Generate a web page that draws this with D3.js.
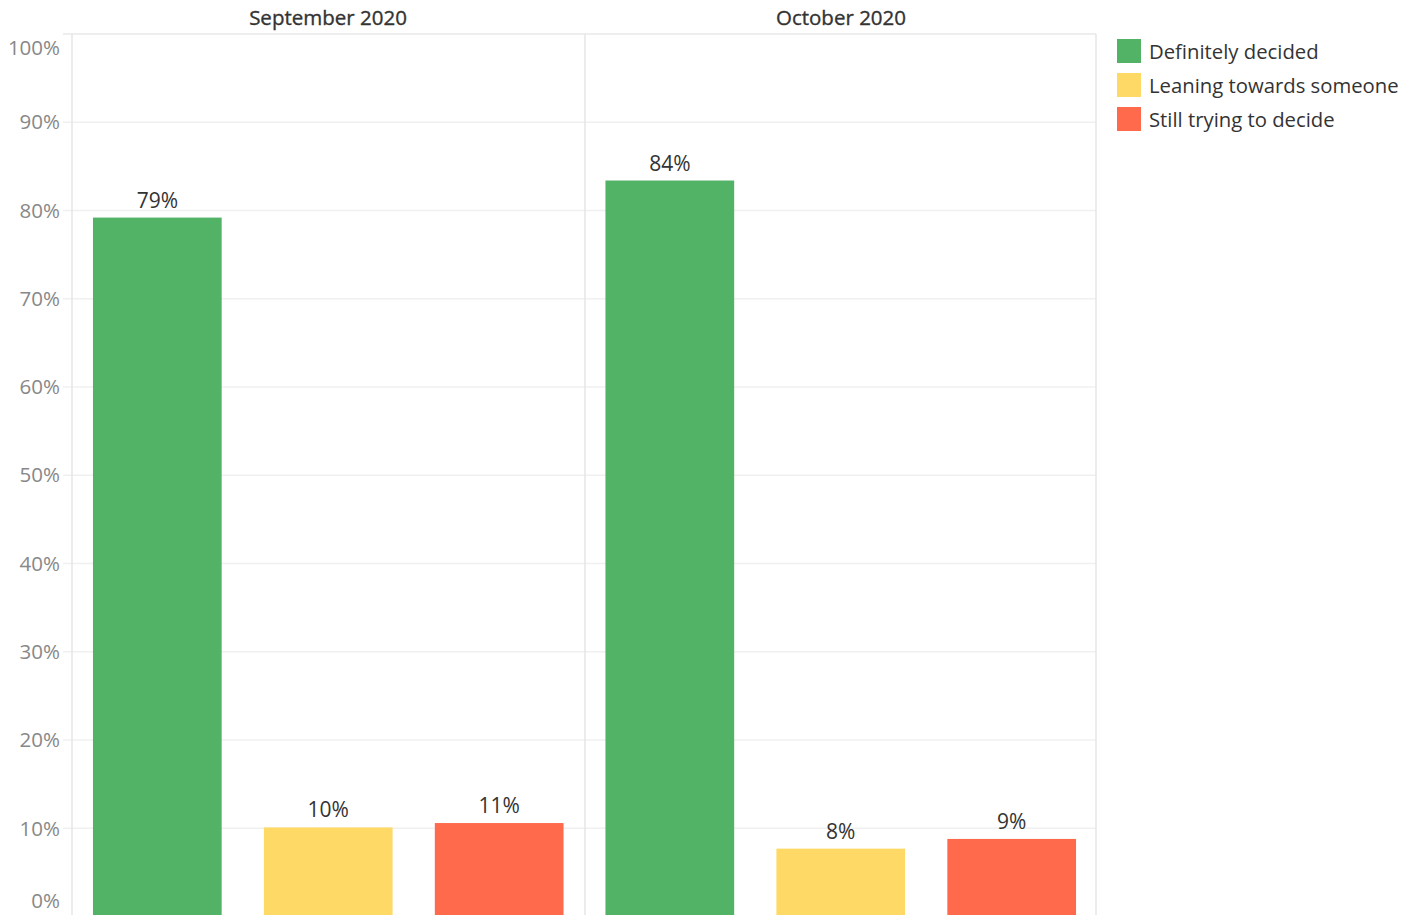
<!DOCTYPE html>
<html>
<head>
<meta charset="utf-8">
<script src="https://cdn.jsdelivr.net/npm/d3@7"></script>
<style>
  body { margin: 0; background: #fff; }
  text { font-family: "Open Sans", "Noto Sans", sans-serif; }
</style>
</head>
<body>
<div id="chart"></div>
<script>
// data
var months = ["September 2020", "October 2020"];
var answers = ["Definitely decided", "Leaning towards someone", "Still trying to decide"];
var september = [79.2, 10.1, 10.6];
var october = [83.4, 7.7, 8.8];
var labels = [["79%", "10%", "11%"], ["84%", "8%", "9%"]];
var yTicks = [0, 10, 20, 30, 40, 50, 60, 70, 80, 90, 100];
var colors = ["#52b266", "#ffd966", "#ff6a4d"];

var width = 1417, height = 915;
var plotLeft = 72, plotRight = 1097, plotTop = 34, plotBottom = 916.6;

var svg = d3.select("#chart").append("svg")
	.attr("width", width)
	.attr("height", height);

var y = d3.scaleLinear().domain([0, 100]).range([plotBottom, plotTop]);
var panel = d3.scaleBand().domain(months).range([plotLeft, plotRight]);
var x = d3.scaleBand().domain(answers).range([0, panel.bandwidth()]).paddingInner(0.247).paddingOuter(0.1226);
var color = d3.scaleOrdinal().domain(answers).range(colors);

// gridlines
svg.selectAll("line.grid")
	.data(yTicks.filter(function (d) { return d > 0 && d < 100; }))
	.enter()
	.append("line")
	.attr("x1", plotLeft - 9)
	.attr("x2", 1096)
	.attr("y1", function (d) { return y(d); })
	.attr("y2", function (d) { return y(d); })
	.style("stroke", "#f0f0f0")
	.style("stroke-width", 1.5);

// top border
svg.append("line")
	.attr("x1", plotLeft - 9).attr("x2", 1096)
	.attr("y1", plotTop).attr("y2", plotTop)
	.style("stroke", "#e8e8e8").style("stroke-width", 1.5);

// vertical lines: axis, divider, right edge
svg.selectAll("line.vert")
	.data([plotLeft, 585, 1096])
	.enter()
	.append("line")
	.attr("x1", function (d) { return d; })
	.attr("x2", function (d) { return d; })
	.attr("y1", plotTop)
	.attr("y2", height)
	.style("stroke", "#e6e6e6")
	.style("stroke-width", 1.5);

// y tick labels
svg.selectAll("text.ytick")
	.data(yTicks)
	.enter()
	.append("text")
	.attr("x", 60)
	.attr("y", function (d) {
		if (d == 100) return y(d) + 14;
		if (d == 0) return y(d) - 16;
		return y(d);
	})
	.attr("dy", "0.35em")
	.attr("text-anchor", "end")
	.style("font-size", "20.5px")
	.style("fill", "#888")
	.text(function (d) { return d + "%"; });

// panel headers
svg.selectAll("text.header")
	.data(months)
	.enter()
	.append("text")
	.attr("x", function (d, i) { return i == 0 ? 328 : 841; })
	.attr("y", 25)
	.attr("text-anchor", "middle")
	.style("font-size", "20.5px")
	.style("fill", "#333")
	.style("stroke", "#333")
	.style("stroke-width", 0.35)
	.text(function (d) { return d; });

var series = [september, october];

months.forEach(function (m, i) {
	var g = svg.append("g").attr("transform", "translate(" + panel(m) + ",0)");
	var rows = answers.map(function (a, j) { return { answer: a, value: series[i][j], label: labels[i][j] }; });

	g.selectAll("rect")
		.data(rows)
		.enter()
		.append("rect")
		.attr("x", function (d) { return x(d.answer); })
		.attr("width", x.bandwidth())
		.attr("y", function (d) { return y(d.value); })
		.attr("height", function (d) { return plotBottom - y(d.value); })
		.style("fill", function (d) { return color(d.answer); });

	g.selectAll("text")
		.data(rows)
		.enter()
		.append("text")
		.attr("x", function (d) { return x(d.answer) + x.bandwidth() / 2; })
		.attr("y", function (d) { return y(d.value) - 10; })
		.attr("text-anchor", "middle")
		.style("font-size", "21px")
		.style("fill", "#333")
		.text(function (d) { return d.label; });
});

// legend
var legend = svg.selectAll("g.legend")
	.data(answers)
	.enter()
	.append("g")
	.attr("transform", function (d, i) { return "translate(1117," + (39 + i * 34) + ")"; });

legend.append("rect")
	.attr("width", 24)
	.attr("height", 24)
	.style("fill", function (d) { return color(d); });

legend.append("text")
	.attr("x", 32)
	.attr("y", 13)
	.attr("dy", "0.35em")
	.style("font-size", "20.3px")
	.style("fill", "#333")
	.text(function (d) { return d; });
</script>
</body>
</html>
